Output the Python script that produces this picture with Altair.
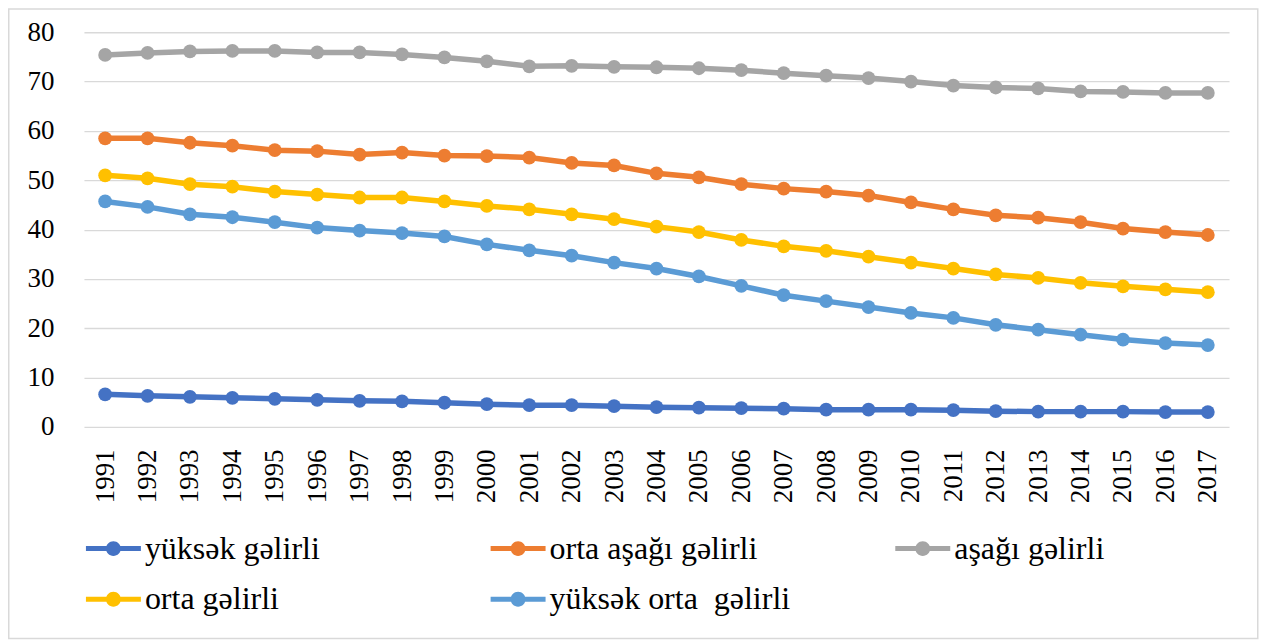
import altair as alt
import pandas as pd

years = ["1991", "1992", "1993", "1994", "1995", "1996", "1997", "1998", "1999",
         "2000", "2001", "2002", "2003", "2004", "2005", "2006", "2007", "2008",
         "2009", "2010", "2011", "2012", "2013", "2014", "2015", "2016", "2017"]

series_names = ["yüksək gəlirli", "orta aşağı gəlirli", "aşağı gəlirli",
                "orta gəlirli", "yüksək orta\u00a0 gəlirli"]
series_colors = ["#4472C4", "#ED7D31", "#A5A5A5", "#FFC000", "#5B9BD5"]

high_income = [6.6, 6.3, 6.1, 5.9, 5.7, 5.5, 5.3, 5.2, 4.9, 4.6, 4.4, 4.4, 4.2, 4.0,
               3.9, 3.8, 3.7, 3.5, 3.5, 3.5, 3.4, 3.2, 3.1, 3.1, 3.1, 3.0, 3.0]
lower_middle = [58.5, 58.5, 57.6, 57.0, 56.1, 55.9, 55.2, 55.6, 55.0, 54.9, 54.6, 53.5, 53.0, 51.4,
                50.6, 49.2, 48.3, 47.7, 46.9, 45.5, 44.1, 42.9, 42.4, 41.5, 40.2, 39.5, 38.9]
low_income = [75.4, 75.8, 76.1, 76.2, 76.2, 75.9, 75.9, 75.5, 74.9, 74.1, 73.1, 73.2, 73.0, 72.9,
              72.7, 72.3, 71.7, 71.2, 70.7, 70.0, 69.2, 68.8, 68.6, 68.0, 67.9, 67.7, 67.7]
middle_income = [51.0, 50.4, 49.2, 48.7, 47.7, 47.1, 46.5, 46.5, 45.7, 44.8, 44.1, 43.1, 42.1, 40.6,
                 39.5, 37.9, 36.6, 35.7, 34.5, 33.3, 32.1, 30.9, 30.2, 29.2, 28.5, 27.9, 27.3]
upper_middle = [45.7, 44.6, 43.1, 42.5, 41.5, 40.4, 39.8, 39.3, 38.6, 37.0, 35.8, 34.7, 33.3, 32.1,
                30.5, 28.6, 26.7, 25.5, 24.3, 23.1, 22.1, 20.7, 19.7, 18.7, 17.7, 17.0, 16.6]

y_ticks = [0, 10, 20, 30, 40, 50, 60, 70, 80]

all_series = [high_income, lower_middle, low_income, middle_income, upper_middle]
rows = []
for name, vals in zip(series_names, all_series):
    for yr, v in zip(years, vals):
        rows.append({"year": yr, "value": v, "series": name})
df = pd.DataFrame(rows)

FONT = "Liberation Serif, Times New Roman, serif"
W, H = 1146, 395

color_scale = alt.Scale(domain=series_names, range=series_colors)
legend_symbol = ("M-1,-0.09H1V0.09H-1Z "
                 "M0.27,0A0.27,0.27,0,1,1,-0.27,0A0.27,0.27,0,1,1,0.27,0Z")

legend = alt.Legend(title=None, orient="none", legendX=2, legendY=489,
                    direction="horizontal", columns=3, gridAlign="all",
                    columnPadding=105, rowPadding=7,
                    symbolType=legend_symbol, symbolSize=3025,
                    symbolStrokeWidth=0, symbolOpacity=1,
                    labelFont=FONT, labelFontSize=32, labelColor="#000000",
                    labelOffset=4, labelLimit=0)

x_enc = alt.X("year:O", sort=years, scale=alt.Scale(padding=0.5),
              axis=alt.Axis(title=None, labelAngle=-90, labelFont=FONT, labelFontSize=27,
                            labelColor="#000000", labelPadding=22, ticks=False, domain=False,
                            grid=False))
y_enc = alt.Y("value:Q", scale=alt.Scale(domain=[0, 80], nice=False, zero=True),
              axis=alt.Axis(title=None, values=y_ticks, labelFont=FONT, labelFontSize=27,
                            labelColor="#000000", labelPadding=30, ticks=False, domain=False,
                            grid=True, gridColor="#D9D9D9", gridWidth=1.3))

color_enc = alt.Color("series:N", scale=color_scale, sort=series_names, legend=legend)

lines = alt.Chart(df).mark_line(strokeWidth=5.5, interpolate="linear").encode(
    x=x_enc, y=y_enc, color=color_enc, detail="series:N",
)

points = alt.Chart(df).mark_point(filled=True, shape="circle", size=190, opacity=1).encode(
    x=x_enc, y=y_enc, color=color_enc,
)

frame_df = pd.DataFrame({"k": [0]})
frame = alt.Chart(frame_df).mark_rect(fill="transparent", stroke="#D9D9D9", strokeWidth=1.5).encode(
    x=alt.value(-75.25), x2=alt.value(1174.75), y=alt.value(-23.25), y2=alt.value(606.75)
)

chart = alt.layer(frame, lines, points).properties(
    width=W, height=H,
    autosize=alt.AutoSizeParams(type="none"),
    padding={"left": 76, "top": 24, "right": 30, "bottom": 213},
    background="#FFFFFF",
).configure_view(strokeWidth=0)

chart.save("out.html", embed_options={"renderer": "svg", "actions": False})
